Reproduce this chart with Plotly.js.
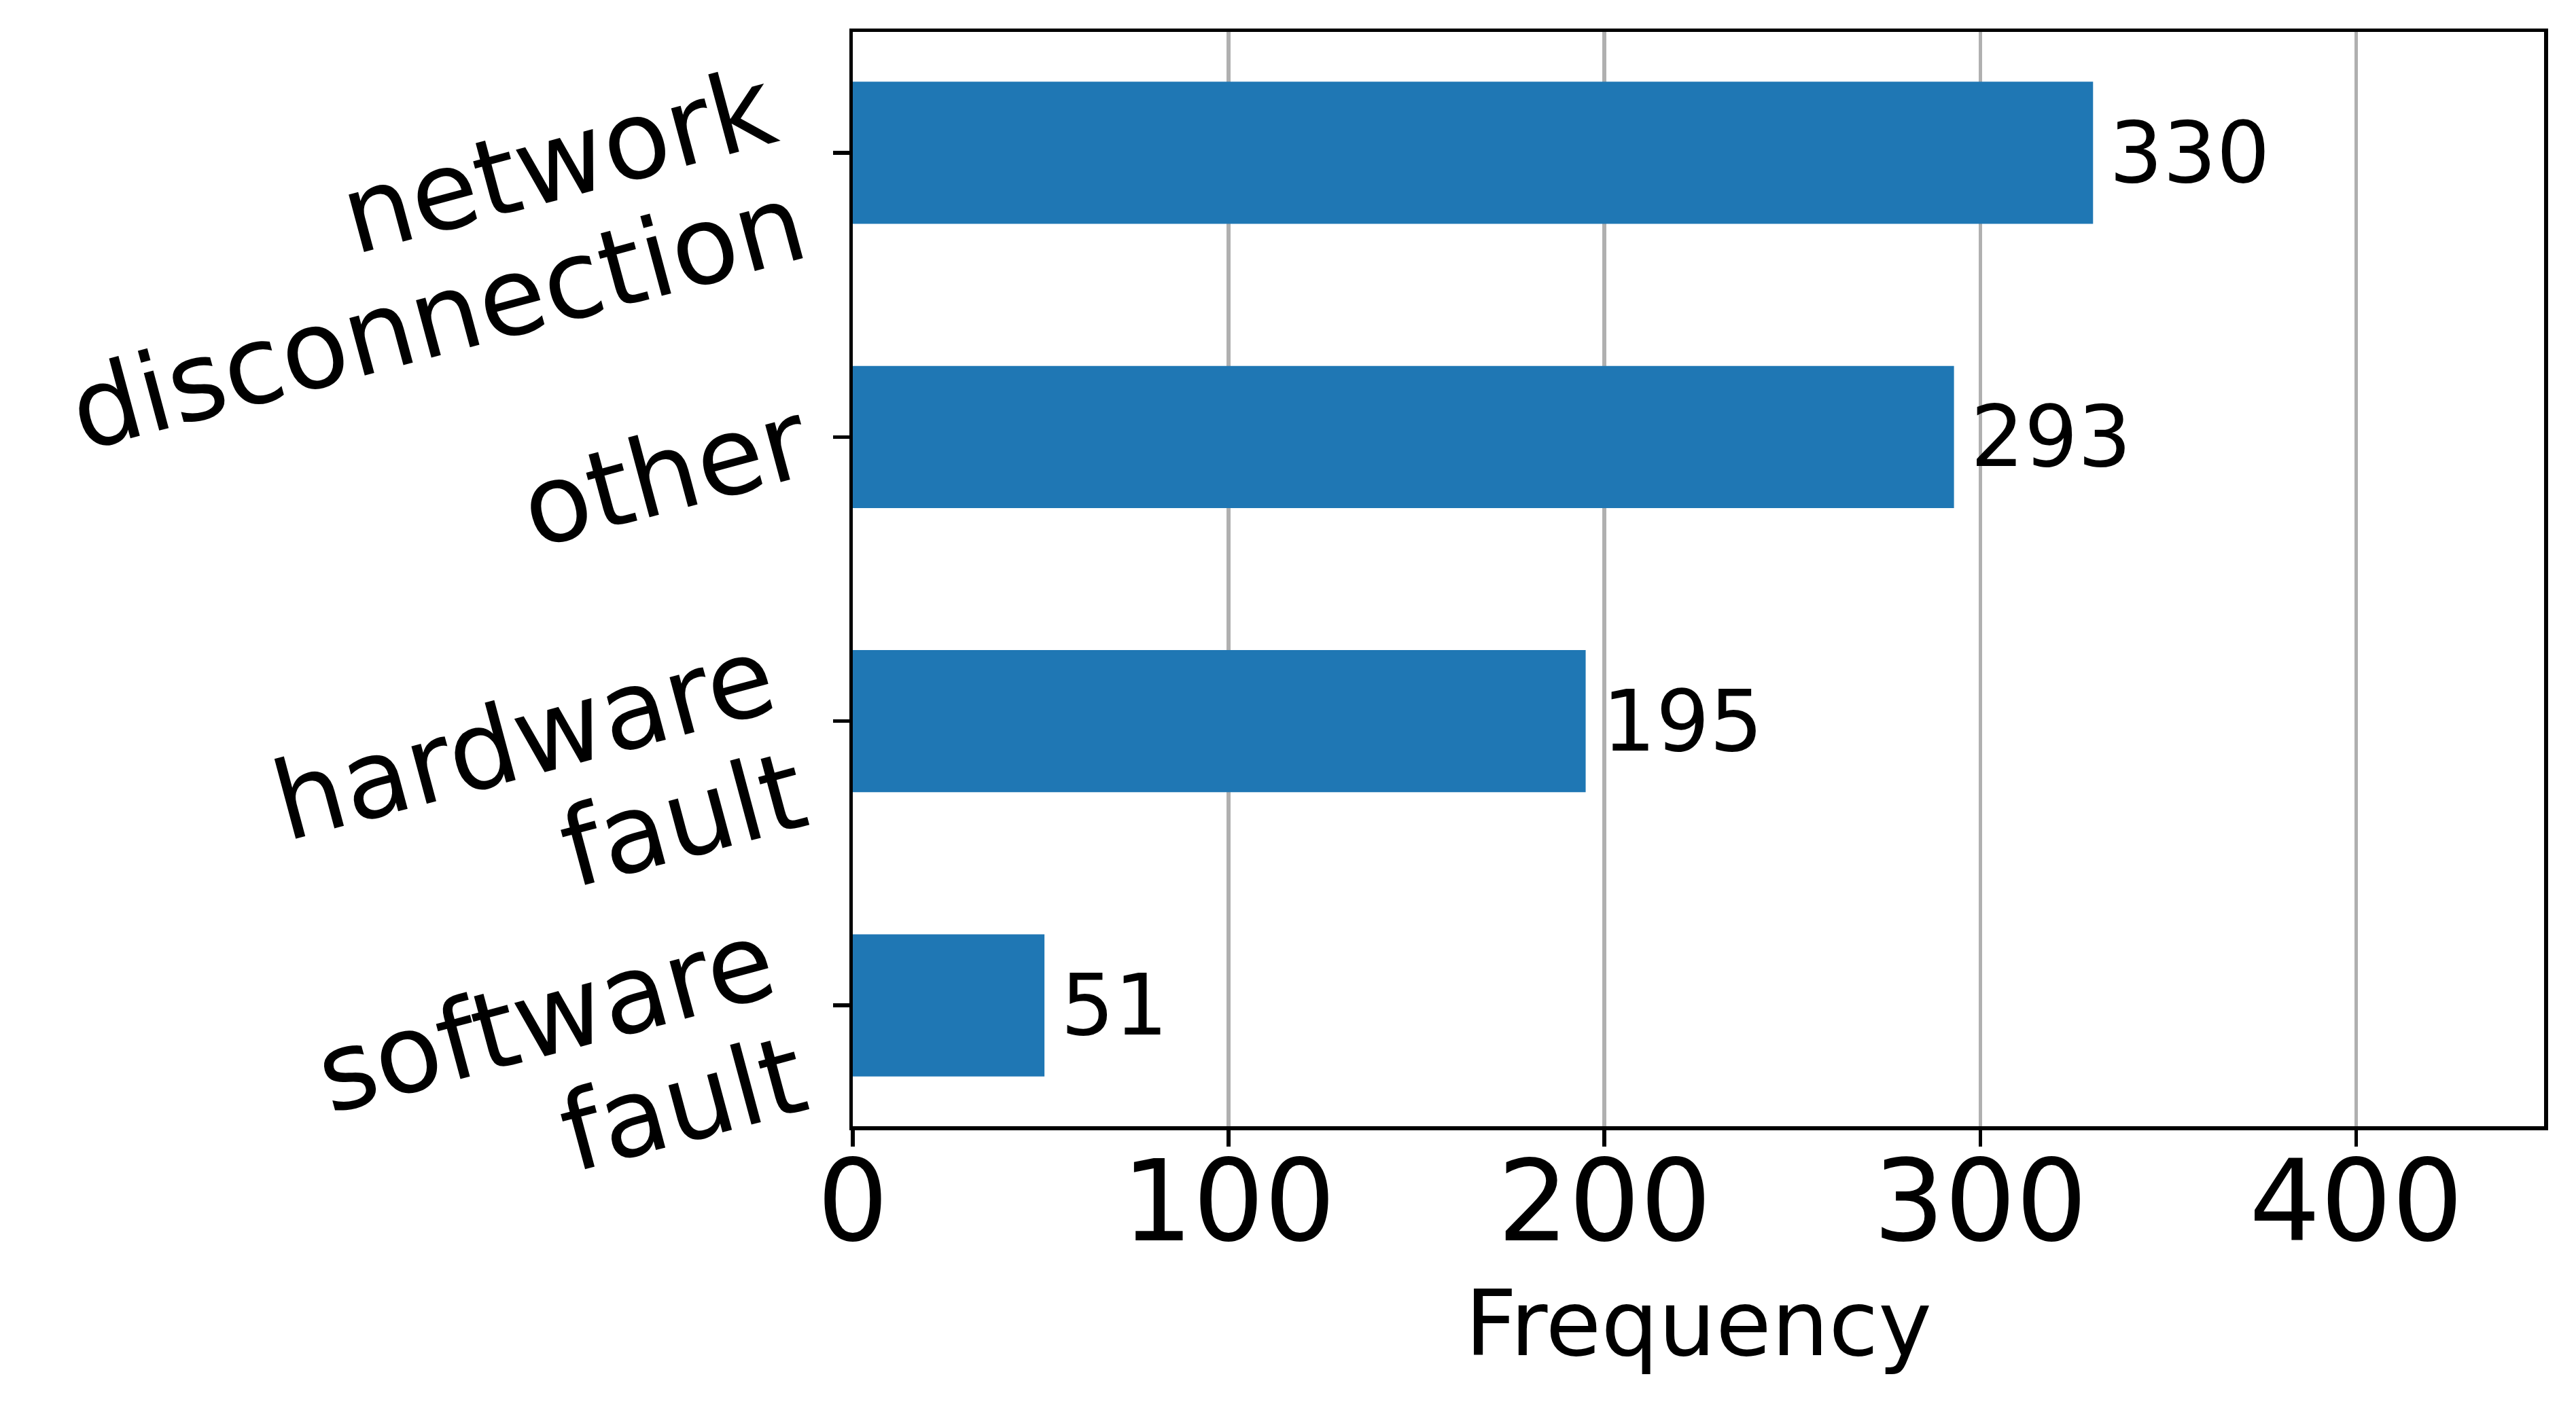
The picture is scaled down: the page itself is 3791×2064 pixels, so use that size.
<!DOCTYPE html>
<html><head><meta charset="utf-8">
<script src="https://cdn.plot.ly/plotly-3.0.1.min.js"></script>
<style>html,body{margin:0;padding:0;background:#fff}#chart{width:3791px;height:2064px}</style>
</head><body><div id="chart"></div>
<script>
const categories = ["network<br>disconnection", "other", "hardware<br>fault", "software<br>fault"];
const frequencies = [330, 293, 195, 51];
const xTickValues = [0, 100, 200, 300, 400];
const xTickLabels = ["0", "100", "200", "300", "400"];
const xAxisTitle = "Frequency";

const FONT = "DejaVu Sans, sans-serif";
const trace = {
  type: "bar", orientation: "h",
  x: frequencies, y: categories,
  width: 0.5,
  marker: {color: "#1f77b4", line: {width: 0}},
  hoverinfo: "skip"
};
const annotations = frequencies.map((v, i) => ({
  x: v, y: categories[i], xref: "x", yref: "y",
  text: String(v), showarrow: false, xanchor: "left", yanchor: "middle",
  xshift: 22, yshift: 0, font: {family: FONT, size: 124, color: "#000"}
}));
const layout = {
  width: 3791, height: 2064,
  margin: {l: 1255, r: 47, t: 47, b: 406, pad: 0},
  paper_bgcolor: "#fff", plot_bgcolor: "#fff",
  showlegend: false,
  font: {family: FONT, color: "#000"},
  xaxis: {
    range: [0, 450], tickvals: xTickValues, ticktext: xTickLabels,
    showgrid: true, gridcolor: "#b0b0b0", gridwidth: 5.5,
    zeroline: false, showline: true, linecolor: "#000", linewidth: 5.5, mirror: true,
    ticks: "outside", ticklen: 24, tickwidth: 5.5, tickcolor: "#000",
    ticklabelstandoff: -60,
    tickfont: {family: FONT, size: 165, color: "#000"},
    title: {text: xAxisTitle, font: {family: FONT, size: 133, color: "#000"}, standoff: 40},
    automargin: false, fixedrange: true
  },
  yaxis: {
    type: "category", categoryorder: "array", categoryarray: categories,
    range: [3.425, -0.425],
    showgrid: false, zeroline: false, showline: true, linecolor: "#000", linewidth: 5.5, mirror: true,
    ticks: "outside", ticklen: 24, tickwidth: 5.5, tickcolor: "#000",
    ticklabelstandoff: 38,
    tickangle: -15,
    tickfont: {family: FONT, size: 160, color: "#000"},
    automargin: false, fixedrange: true
  },
  annotations
};

// matplotlib-like line spacing and anchoring for the rotated category labels
function adjustYLabels(gd, factor) {
  gd.querySelectorAll('g.ytick text').forEach(t => {
    const lines = t.querySelectorAll('tspan.line');
    const old = t.getAttribute('transform') || '';
    if (lines.length >= 2) {
      lines.forEach(l => {
        const dy = l.getAttribute('dy');
        if (dy && dy.endsWith('em')) {
          const v = parseFloat(dy);
          if (v !== 0) l.setAttribute('dy', (v * factor) + 'em');
        }
      });
      t.setAttribute('transform', 'translate(0,29) ' + old);
    } else {
      t.setAttribute('transform', 'translate(22,0) ' + old);
    }
  });
}

Plotly.newPlot("chart", [trace], layout, {staticPlot: true, displayModeBar: false})
  .then(gd => adjustYLabels(gd, 0.845));
</script></body></html>
